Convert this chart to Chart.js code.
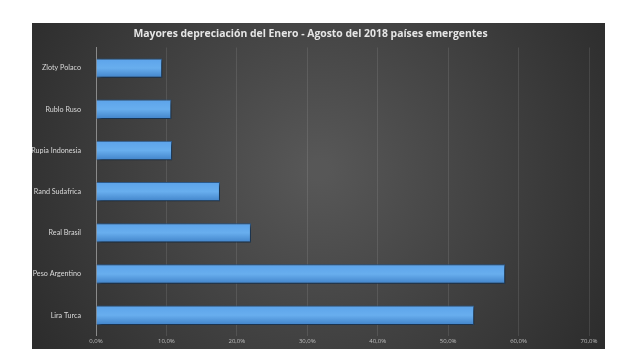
<!DOCTYPE html>
<html><head><meta charset="utf-8">
<script src="https://cdn.jsdelivr.net/npm/chart.js@4/dist/chart.umd.min.js"></script>
<style>
html,body{margin:0;padding:0;background:#fff;width:640px;height:362px;overflow:hidden}
#wrap{position:absolute;left:32px;top:23px;width:573px;height:326px}
</style></head><body>
<div id="wrap"><canvas id="c"></canvas></div>
<script>
const categories = ["Zloty Polaco","Rublo Ruso","Rupia Indonesia","Rand Sudafrica","Real Brasil","Peso Argentino","Lira Turca"];
const values = [9.4, 10.7, 10.8, 17.6, 22.0, 58.1, 53.7];
const tickLabels = ["0,0%","10,0%","20,0%","30,0%","40,0%","50,0%","60,0%","70,0%"];
const titleText = "Mayores depreciación del Enero - Agosto del 2018 países emergentes";

const bgPlugin = {
  id:'bg',
  beforeDraw(chart){
    const {ctx,width,height} = chart;
    ctx.save();
    const g = ctx.createRadialGradient(width*0.5,height*0.45,10,width*0.5,height*0.45,width*0.6);
    g.addColorStop(0,'#575757');
    g.addColorStop(1,'#2b2b2b');
    ctx.fillStyle = g;
    ctx.fillRect(0,0,width,height);
    ctx.restore();
  }
};
const shadowPlugin = {
  id:'shadow',
  beforeDatasetsDraw(chart){
    const ctx = chart.ctx;
    ctx.save();
    ctx.shadowColor='rgba(0,0,0,0.6)';
    ctx.shadowBlur=4;
    ctx.shadowOffsetX=2;
    ctx.shadowOffsetY=2;
  },
  afterDatasetsDraw(chart){ chart.ctx.restore(); }
};

new Chart(document.getElementById('c'),{
  type:'bar',
  data:{labels:categories,datasets:[{
    data:values,
    backgroundColor:(c)=>{
      const ch=c.chart;
      const ys = ch.scales && ch.scales.y;
      if(!ch.chartArea || !ys || c.dataIndex===undefined) return '#5b9bd5';
      const yc = ys.getPixelForValue(c.dataIndex);
      const h = ch.chartArea.height/categories.length*0.47;
      if(!isFinite(yc)||!isFinite(h)) return '#5b9bd5';
      const g=ch.ctx.createLinearGradient(0,yc-h/2,0,yc+h/2);
      g.addColorStop(0,'#5ca3ea');
      g.addColorStop(0.5,'#68aeee');
      g.addColorStop(1,'#4183c9');
      return g;
    },
    borderColor:'#2f5f93',
    borderWidth:1,
    barPercentage:0.47,
    categoryPercentage:1
  }]},
  options:{
    indexAxis:'y',
    responsive:true,maintainAspectRatio:false,animation:false,
    layout:{padding:{left:0,right:16,top:0,bottom:2}},
    plugins:{
      legend:{display:false},tooltip:{enabled:false},
      title:{display:true,text:titleText,color:'#e6e6e6',
        font:{family:'Open Sans',size:10.4,weight:'bold'},padding:{top:5,bottom:7}}
    },
    scales:{
      x:{min:0,max:70,
        ticks:{stepSize:10,color:'#bfbfbf',font:{family:'Open Sans',size:6},
          callback:(v,i)=>tickLabels[i],maxRotation:0,padding:2},
        grid:{color:'rgba(255,255,255,0.10)',drawTicks:false},
        border:{display:false}
      },
      y:{
        ticks:{color:'#d9d9d9',font:{family:'Lato',size:7.2},padding:7},
        grid:{display:false},
        border:{display:true,color:'#8a8a8a',width:1},
        afterFit(s){s.width=64;}
      }
    }
  },
  plugins:[bgPlugin,shadowPlugin]
});
</script>
</body></html>
